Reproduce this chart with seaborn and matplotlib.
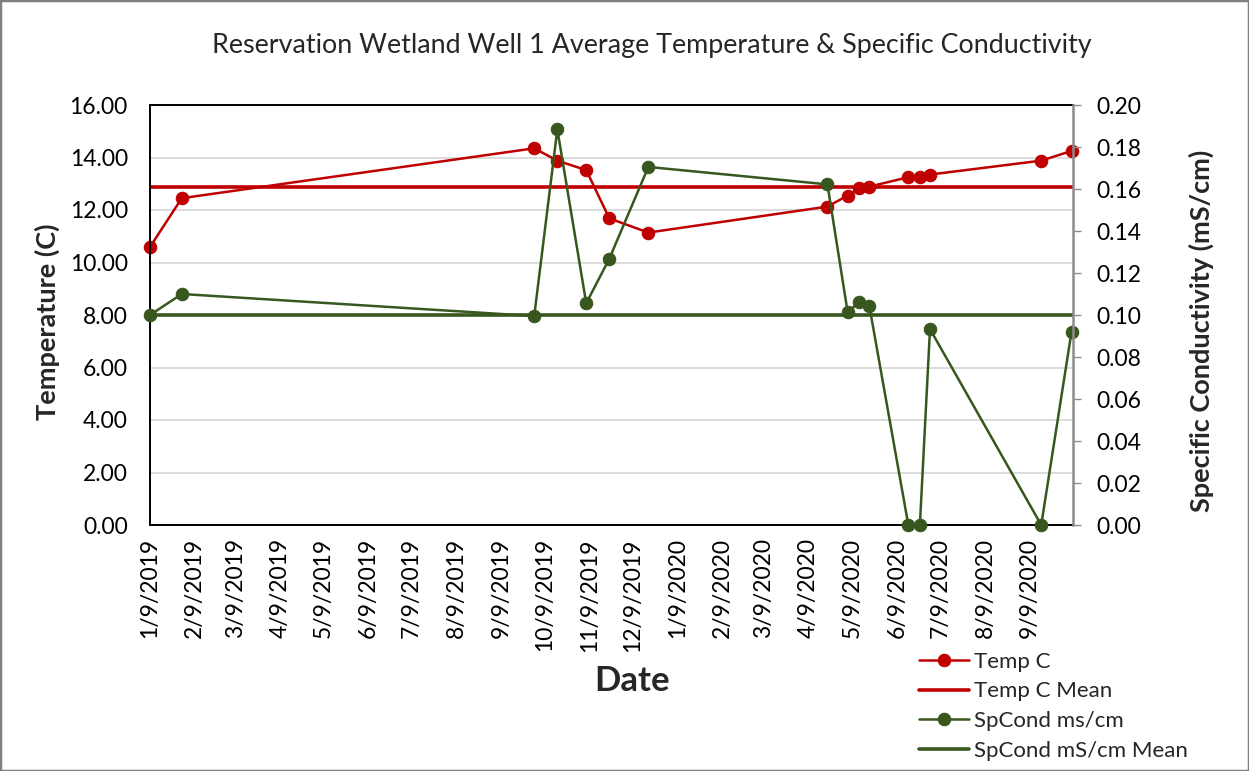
import pandas as pd
import numpy as np
import matplotlib
matplotlib.use("Agg")
import matplotlib.pyplot as plt
from matplotlib.patches import Rectangle
import seaborn as sns

# values
dates = ["2019-01-09", "2019-01-31", "2019-10-02", "2019-10-18", "2019-11-07",
         "2019-11-23", "2019-12-20", "2020-04-22", "2020-05-06", "2020-05-14",
         "2020-05-21", "2020-06-17", "2020-06-25", "2020-07-02", "2020-09-17",
         "2020-10-08"]
temp_c = [10.59, 12.45, 14.35, 13.88, 13.52, 11.68, 11.14, 12.13, 12.55, 12.83,
          12.89, 13.25, 13.24, 13.35, 13.88, 14.25]
spcond = [0.100, 0.110, 0.0995, 0.1884, 0.1056, 0.1268, 0.1705, 0.1622, 0.1013,
          0.1063, 0.1043, 0.0, 0.0, 0.0933, 0.0, 0.0921]
temp_mean = 12.88
spcond_mean = 0.100

tick_dates = ["2019-01-09", "2019-02-09", "2019-03-09", "2019-04-09", "2019-05-09",
              "2019-06-09", "2019-07-09", "2019-08-09", "2019-09-09", "2019-10-09",
              "2019-11-09", "2019-12-09", "2020-01-09", "2020-02-09", "2020-03-09",
              "2020-04-09", "2020-05-09", "2020-06-09", "2020-07-09", "2020-08-09",
              "2020-09-09", "2020-10-09"]
tick_labels = ["1/9/2019", "2/9/2019", "3/9/2019", "4/9/2019", "5/9/2019",
               "6/9/2019", "7/9/2019", "8/9/2019", "9/9/2019", "10/9/2019",
               "11/9/2019", "12/9/2019", "1/9/2020", "2/9/2020", "3/9/2020",
               "4/9/2020", "5/9/2020", "6/9/2020", "7/9/2020", "8/9/2020",
               "9/9/2020", ""]

red = "#C00000"
green = "#38571E"

sns.set_style("white")
plt.rcParams["font.family"] = ["Lato", "DejaVu Sans"]

df = pd.DataFrame({"Date": pd.to_datetime(dates), "Temp": temp_c, "SpCond": spcond})
ticks = pd.to_datetime(tick_dates)

fig = plt.figure(figsize=(12.49, 7.71), dpi=100)
ax = fig.add_axes([150 / 1249, 1 - 525 / 771, 923 / 1249, 420 / 771])
ax2 = ax.twinx()

sns.lineplot(data=df, x="Date", y="Temp", ax=ax, color=red, marker="o",
             markersize=9, markeredgecolor=red, linewidth=1.8, clip_on=False)
h1 = ax.lines[-1]
h2 = ax.axhline(temp_mean, color=red, linewidth=2.6)

sns.lineplot(data=df, x="Date", y="SpCond", ax=ax2, color=green, marker="o",
             markersize=9, markeredgecolor=green, linewidth=1.8, clip_on=False)
h3 = ax2.lines[-1]
h4 = ax2.axhline(spcond_mean, color=green, linewidth=2.6)

ax.set_xlim(ticks[0], ticks[-1])
ax.set_ylim(0, 16)
ax2.set_ylim(0, 0.2)

ax.set_yticks(np.arange(0, 16.01, 2))
ax.set_yticklabels([f"{v:.2f}" for v in np.arange(0, 16.01, 2)])
ax2.set_yticks(np.arange(0, 0.2001, 0.02))
ax2.set_yticklabels([f"{v:.2f}" for v in np.arange(0, 0.2001, 0.02)])
ax.set_xticks(ticks)
ax.set_xticklabels(tick_labels, rotation=90)

ax.yaxis.grid(True, color="#d9d9d9", linewidth=1.3)
ax.xaxis.grid(False)
ax.set_axisbelow(True)
ax2.grid(False)

for s in ["left", "bottom", "top"]:
    ax.spines[s].set_color("black")
    ax.spines[s].set_linewidth(1.4)
ax.spines["right"].set_visible(False)
for s in ["left", "bottom", "top"]:
    ax2.spines[s].set_visible(False)
ax2.spines["right"].set_color("#8c8c8c")
ax2.spines["right"].set_linewidth(1.8)

ax.tick_params(axis="y", length=0, pad=16, labelsize=16.5, labelcolor="black")
ax.tick_params(axis="x", direction="inout", length=9, width=1.4, color="black",
               pad=5, labelsize=16.5, labelcolor="black")
ax2.tick_params(axis="y", direction="out", length=6, width=1, color="#8c8c8c",
                pad=11, labelsize=16.5, labelcolor="black")

ax.set_xlabel("Date", fontsize=25, fontweight="bold", labelpad=10)
ax.xaxis.label.set_x(0.522)
ax.set_ylabel("Temperature (C)", fontsize=19.5, fontweight="bold", labelpad=7)
ax.yaxis.label.set_y(0.485)
ax2.set_ylabel("Specific Conductivity (mS/cm)", fontsize=19.5, fontweight="bold",
               labelpad=34)
ax2.yaxis.label.set_y(0.462)

fig.text(652 / 1249, 1 - 45 / 771,
         "Reservation Wetland Well 1 Average Temperature & Specific Conductivity",
         ha="center", va="center", fontsize=19.4)

fig.legend([h1, h2, h3, h4],
           ["Temp C", "Temp C Mean", "SpCond ms/cm", "SpCond mS/cm Mean"],
           loc="upper left", bbox_to_anchor=(910 / 1249, 1 - 643 / 771),
           frameon=False, fontsize=16, handlelength=2.25, labelspacing=0.43,
           handletextpad=0.25, borderaxespad=0)

fig.patches.append(Rectangle((0, 0), 1, 1, transform=fig.transFigure, fill=False,
                             edgecolor="#7f7f7f", linewidth=2.5))

fig.savefig("out.png", dpi=100)
